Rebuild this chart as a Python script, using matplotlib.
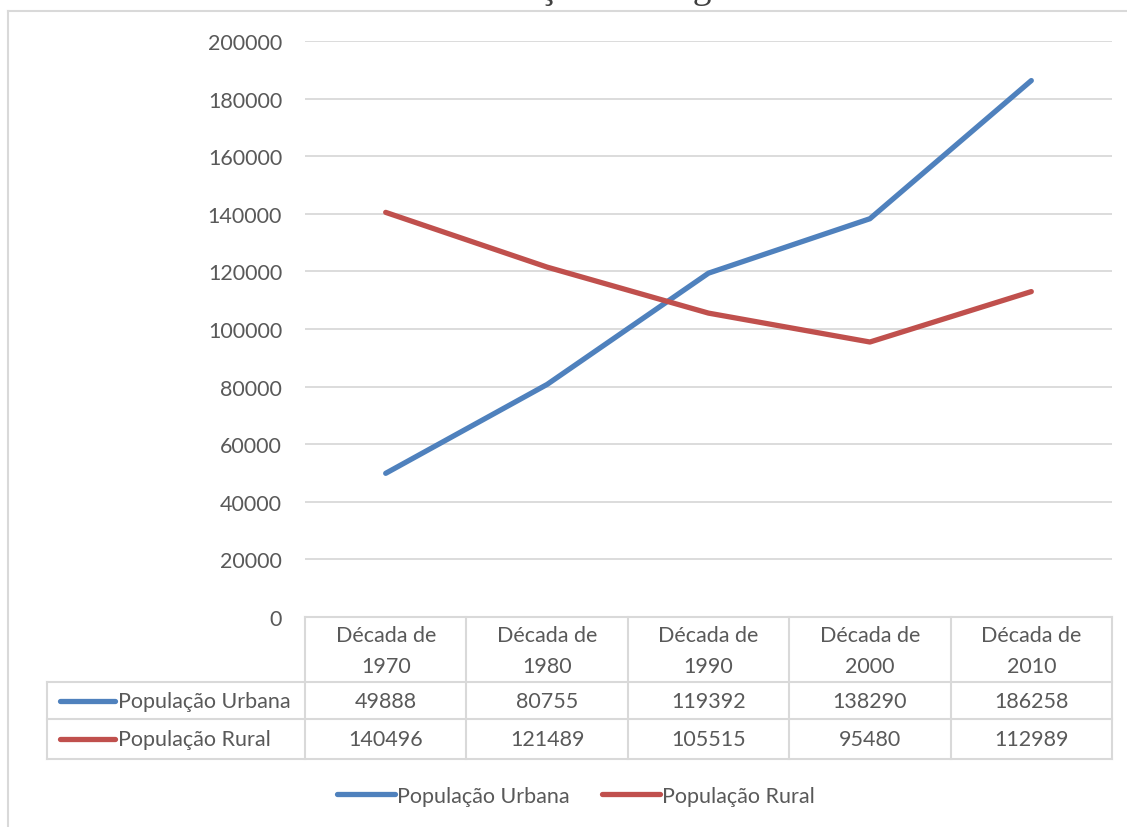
import matplotlib.pyplot as plt
from matplotlib.lines import Line2D
import numpy as np

plt.rcParams['font.family'] = ['Lato', 'DejaVu Sans']

categories = ['Década de\n1970', 'Década de\n1980', 'Década de\n1990',
              'Década de\n2000', 'Década de\n2010']
urbana = [49888, 80755, 119392, 138290, 186258]
rural = [140496, 121489, 105515, 95480, 112989]
series_names = ['População Urbana', 'População Rural']
title = 'CG - Evolução Demográfica'

blue = '#4F81BD'
red = '#C0504D'
grid = '#D9D9D9'
txt = '#595959'
W, H = 1127, 828
fs = 15.5


def fx(px):
    return px / W


def fy(py):
    return 1 - py / H


fig = plt.figure(figsize=(W / 100, H / 100), dpi=100)

# outer chart border (cut at right and bottom)
fig.add_artist(Line2D([fx(8), 1.0], [fy(12), fy(12)], color=grid, lw=1.5))
fig.add_artist(Line2D([fx(8), fx(8)], [fy(12), 0], color=grid, lw=1.5))

# title, mostly cut off at the top
fig.text(fx(582), fy(-2), title, ha='center', va='baseline',
         family='Liberation Serif', fontsize=27, color='#404040')

left, right, top, bottom = 305, 1112, 42, 618
ax = fig.add_axes([fx(left), fy(bottom), fx(right) - fx(left), fy(top) - fy(bottom)])
x = np.arange(len(categories))
ax.plot(x, urbana, color=blue, lw=3.8, solid_capstyle='round', label=series_names[0])
ax.plot(x, rural, color=red, lw=3.8, solid_capstyle='round', label=series_names[1])
ax.set_xlim(-0.5, len(categories) - 0.5)
ax.set_ylim(0, 200000)
ax.set_yticks(np.arange(0, 200001, 20000))
ax.yaxis.grid(True, color=grid, lw=1.3)
ax.set_axisbelow(True)
ax.set_xticks([])
for s in ['top', 'right', 'left']:
    ax.spines[s].set_visible(False)
ax.spines['bottom'].set_color(grid)
ax.spines['bottom'].set_linewidth(1.5)
ax.tick_params(axis='y', length=0, pad=16.5, labelsize=fs, labelcolor=txt)

# data table below the plot, sharing the category x scale
tb_bottom = 760
tax = fig.add_axes([fx(left), fy(tb_bottom), fx(right) - fx(left), fy(bottom) - fy(tb_bottom)])
tax.set_xlim(ax.get_xlim())
tax.set_ylim(tb_bottom, bottom)
tax.axis('off')
col_w = (right - left) / len(categories)
label_left = -0.5 - (left - 47) / col_w
row_y = [683, 720, 760]
edges = np.arange(len(categories) + 1) - 0.5
for e in edges:
    tax.plot([e, e], [bottom, tb_bottom], color=grid, lw=1.5, clip_on=False)
tax.plot([label_left, label_left], [row_y[0], tb_bottom], color=grid, lw=1.5, clip_on=False)
for yy in row_y:
    tax.plot([label_left, edges[-1]], [yy, yy], color=grid, lw=1.5, clip_on=False)

for i, c in enumerate(categories):
    tax.text(i, (bottom + row_y[0]) / 2 + 1, c, ha='center', va='center',
             fontsize=fs, color=txt, linespacing=1.65)

for r, (vals, name, col) in enumerate(zip([urbana, rural], series_names, [blue, red])):
    yc = (row_y[r] + row_y[r + 1]) / 2
    for i, v in enumerate(vals):
        tax.text(i, yc, str(v), ha='center', va='center', fontsize=fs, color=txt)
    lx0 = label_left + (60 - 47) / col_w
    lx1 = label_left + (115 - 47) / col_w
    tax.plot([lx0, lx1], [yc, yc], color=col, lw=3.8, solid_capstyle='round', clip_on=False)
    tax.text(label_left + (118 - 47) / col_w, yc, name, ha='left', va='center',
             fontsize=fs, color=txt)

leg = fig.legend(loc='center', bbox_to_anchor=(fx(576), fy(797)), ncol=2, frameon=False,
                 fontsize=fs, handlelength=2.7, handletextpad=0.1, columnspacing=1.5)
for t in leg.get_texts():
    t.set_color(txt)

fig.savefig('out.png', dpi=100)
